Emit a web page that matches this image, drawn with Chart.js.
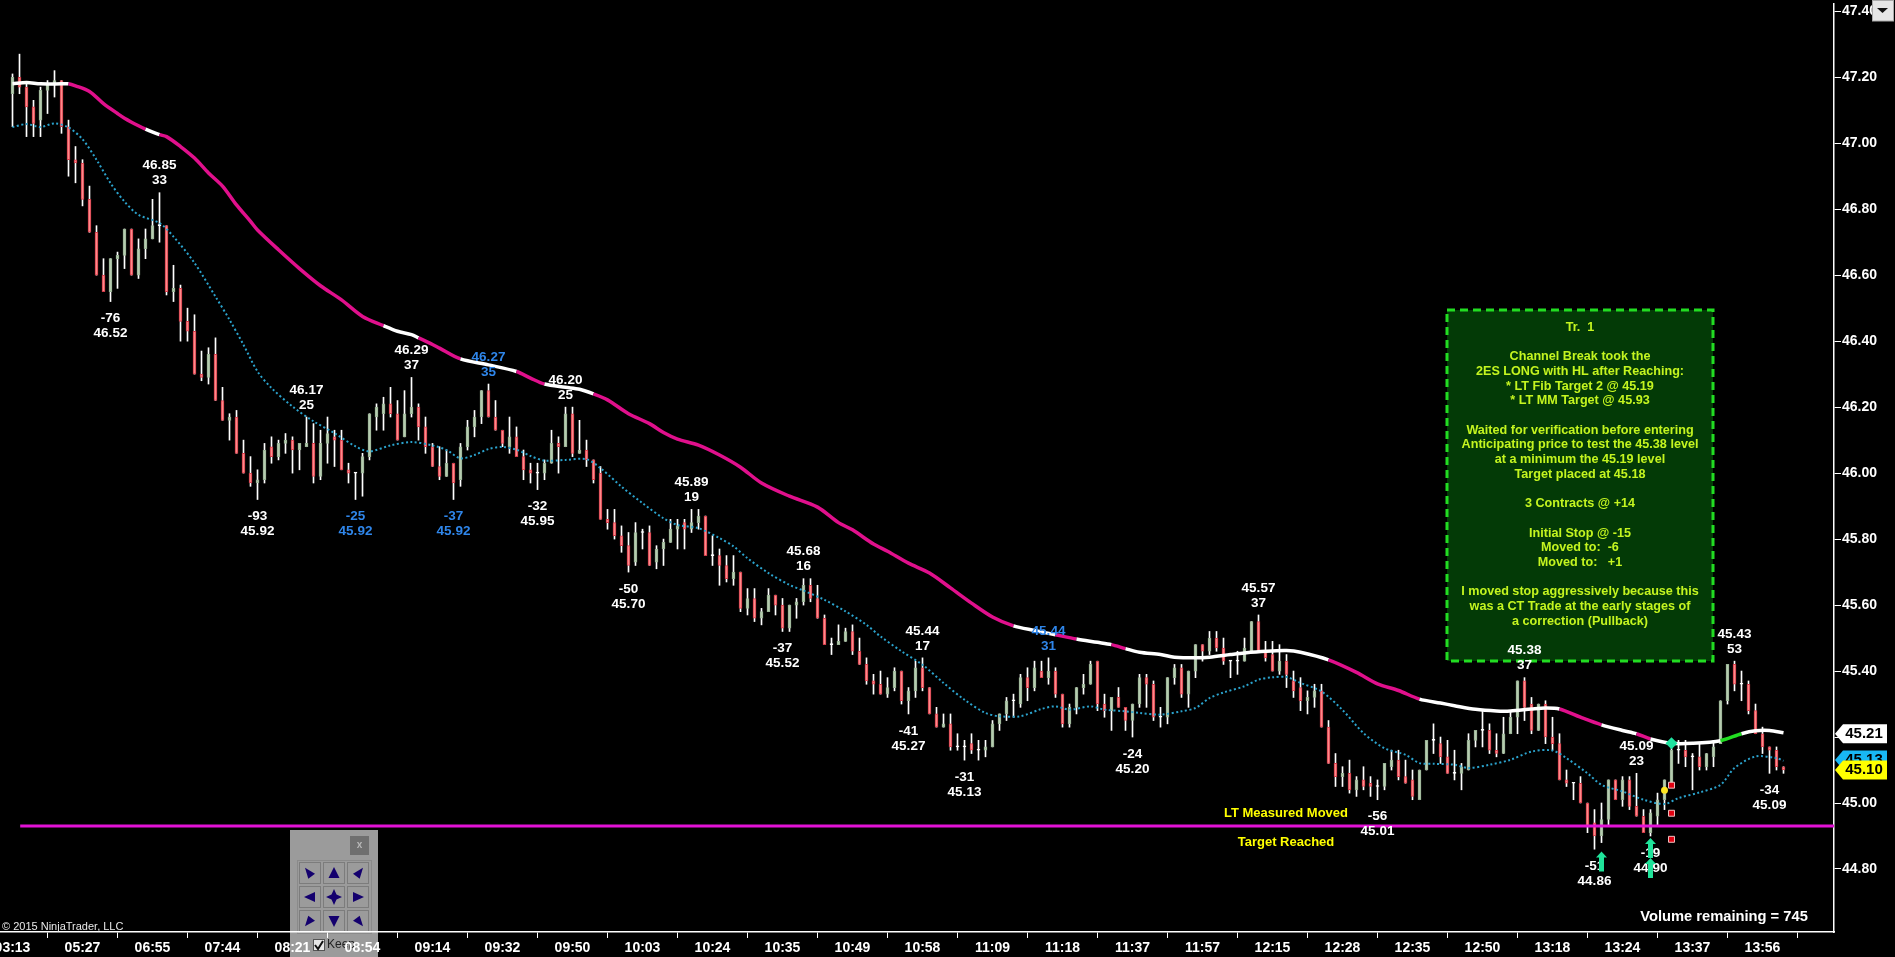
<!DOCTYPE html>
<html>
<head>
<meta charset="utf-8">
<title>ES chart</title>
<script src="https://cdn.jsdelivr.net/npm/chart.js@4/dist/chart.umd.min.js"></script>
<style>html,body{margin:0;padding:0;background:#000;overflow:hidden}canvas{display:block}</style>
</head>
<body>
<canvas id="c" width="1895" height="957"></canvas>
<script>
const timeLabels=['03:13','05:27','06:55','07:44','08:21','08:54','09:14','09:32','09:50','10:03','10:24','10:35','10:49','10:58','11:09','11:18','11:37','11:57','12:15','12:28','12:35','12:50','13:18','13:24','13:37','13:56'];
const priceTicks=[44.8,45,45.2,45.4,45.6,45.8,46,46.2,46.4,46.6,46.8,47,47.2,47.4];
const high=[47.21,47.27,47.18,47.13,47.17,47.19,47.22,47.19,47.07,46.99,
46.95,46.87,46.75,46.65,46.65,46.67,46.74,46.74,46.71,46.74,
46.83,46.85,46.75,46.63,46.57,46.50,46.48,46.37,46.38,46.41,
46.26,46.18,46.19,46.10,46.05,46.01,46.09,46.11,46.10,46.12,
46.11,46.09,46.17,46.15,46.13,46.17,46.13,46.13,46.03,46.00,
46.06,46.18,46.21,46.23,46.26,46.22,46.25,46.29,46.21,46.17,
46.09,46.08,46.07,46.03,46.09,46.16,46.19,46.25,46.27,46.22,
46.13,46.17,46.14,46.07,46.03,46.03,46.04,46.13,46.11,46.20,
46.20,46.16,46.10,46.04,46.02,45.89,45.89,45.84,45.82,45.85,
45.83,45.84,45.78,45.80,45.86,45.86,45.86,45.89,45.89,45.87,
45.81,45.77,45.75,45.75,45.70,45.65,45.65,45.59,45.65,45.63,
45.62,45.60,45.62,45.68,45.68,45.66,45.57,45.50,45.54,45.53,
45.54,45.50,45.44,45.39,45.40,45.38,45.41,45.40,45.35,45.43,
45.44,45.35,45.29,45.27,45.27,45.21,45.19,45.21,45.19,45.19,
45.25,45.27,45.32,45.33,45.39,45.41,45.43,45.43,45.44,45.41,
45.33,45.30,45.35,45.39,45.43,45.43,45.33,45.32,45.35,45.29,
45.30,45.39,45.39,45.37,45.29,45.38,45.42,45.42,45.40,45.48,
45.48,45.52,45.52,45.50,45.43,45.46,45.50,45.55,45.57,45.49,
45.49,45.48,45.45,45.40,45.38,45.34,45.36,45.36,45.25,45.15,
45.11,45.13,45.08,45.11,45.08,45.07,45.12,45.16,45.16,45.13,
45.10,45.10,45.19,45.24,45.20,45.19,45.16,45.12,45.21,45.22,
45.28,45.24,45.21,45.26,45.28,45.37,45.38,45.32,45.30,45.31,
45.26,45.21,45.10,45.06,45.08,45.00,44.98,45.00,45.07,45.07,
45.08,45.08,45.09,44.98,44.98,45.03,45.07,45.19,45.19,45.19,
45.15,45.18,45.15,45.19,45.31,45.42,45.43,45.40,45.37,45.30,
45.23,45.17,45.17,45.11];
const bodyTop=[47.20,47.20,47.17,47.11,47.16,47.18,47.19,47.19,47.05,46.95,
46.94,46.83,46.73,46.60,46.65,46.66,46.74,46.74,46.68,46.71,
46.75,46.75,46.75,46.56,46.56,46.46,46.43,46.30,46.36,46.36,
46.22,46.17,46.17,46.06,46.00,45.98,46.07,46.08,46.09,46.10,
46.10,46.09,46.09,46.09,46.09,46.12,46.11,46.10,46.01,46.00,
46.05,46.18,46.20,46.21,46.21,46.18,46.18,46.20,46.20,46.14,
46.08,46.02,46.03,46.03,46.08,46.14,46.17,46.25,46.25,46.17,
46.13,46.11,46.11,46.05,46.01,46.00,46.03,46.09,46.09,46.18,
46.18,46.07,46.07,46.04,46.00,45.86,45.85,45.81,45.78,45.82,
45.82,45.82,45.77,45.79,45.83,45.84,45.85,45.85,45.87,45.87,
45.75,45.75,45.72,45.70,45.70,45.62,45.62,45.58,45.63,45.63,
45.60,45.60,45.61,45.66,45.66,45.62,45.56,45.48,45.49,45.52,
45.52,45.46,45.42,45.37,45.36,45.35,45.40,45.40,45.34,45.41,
45.41,45.35,45.27,45.24,45.24,45.17,45.17,45.18,45.16,45.17,
45.24,45.27,45.31,45.31,45.38,45.38,45.41,45.40,45.40,45.40,
45.33,45.29,45.35,45.36,45.42,45.43,45.30,45.32,45.32,45.29,
45.30,45.38,45.38,45.36,45.26,45.38,45.41,45.41,45.40,45.48,
45.48,45.50,45.50,45.47,45.43,45.43,45.47,45.55,45.55,45.46,
45.45,45.43,45.43,45.37,45.35,45.32,45.34,45.34,45.23,45.12,
45.09,45.09,45.07,45.07,45.06,45.05,45.12,45.13,45.13,45.08,
45.07,45.10,45.19,45.19,45.18,45.14,45.09,45.11,45.19,45.22,
45.22,45.22,45.16,45.21,45.26,45.37,45.37,45.30,45.30,45.30,
45.20,45.18,45.07,45.06,45.06,45.00,44.94,44.95,45.07,45.07,
45.07,45.07,44.99,44.96,44.97,45.01,45.07,45.16,45.16,45.16,
45.14,45.14,45.15,45.17,45.31,45.42,45.42,45.36,45.36,45.28,
45.21,45.17,45.16,45.11];
const bodyBottom=[47.15,47.17,47.11,47.06,47.07,47.16,47.18,47.05,46.95,46.94,
46.83,46.73,46.60,46.55,46.55,46.65,46.66,46.60,46.60,46.68,
46.71,46.75,46.55,46.55,46.46,46.43,46.30,46.29,46.29,46.22,
46.16,46.16,46.06,46.00,45.97,45.97,45.98,46.05,46.05,46.09,
46.07,46.07,46.08,45.99,45.99,46.09,46.10,46.01,46.00,46.00,
46.00,46.05,46.17,46.18,46.18,46.10,46.11,46.18,46.14,46.08,
46.02,45.99,45.99,45.97,45.98,46.08,46.14,46.17,46.17,46.13,
46.09,46.08,46.05,46.01,46.00,46.00,46.00,46.03,46.08,46.08,
46.06,46.06,46.04,45.98,45.86,45.85,45.81,45.78,45.72,45.73,
45.82,45.72,45.73,45.77,45.79,45.83,45.83,45.83,45.85,45.75,
45.75,45.72,45.68,45.68,45.59,45.59,45.56,45.56,45.58,45.60,
45.53,45.53,45.60,45.61,45.62,45.56,45.48,45.48,45.48,45.49,
45.46,45.42,45.37,45.36,45.33,45.33,45.35,45.31,45.31,45.34,
45.35,45.27,45.23,45.23,45.17,45.17,45.17,45.16,45.16,45.16,
45.17,45.24,45.27,45.31,45.30,45.35,45.35,45.38,45.38,45.33,
45.24,45.24,45.29,45.35,45.36,45.30,45.28,45.28,45.29,45.25,
45.25,45.30,45.36,45.26,45.26,45.26,45.38,45.33,45.33,45.40,
45.46,45.46,45.47,45.43,45.43,45.43,45.43,45.46,45.46,45.44,
45.40,45.40,45.39,45.34,45.31,45.31,45.32,45.23,45.12,45.08,
45.08,45.04,45.04,45.05,45.05,45.05,45.05,45.11,45.08,45.06,
45.02,45.01,45.10,45.19,45.14,45.09,45.09,45.09,45.10,45.19,
45.22,45.16,45.15,45.15,45.21,45.26,45.29,45.22,45.22,45.20,
45.18,45.07,45.06,45.06,45.00,44.93,44.90,44.90,44.95,45.01,
45.01,44.99,44.96,44.91,44.91,44.96,45.01,45.06,45.16,45.14,
45.14,45.11,45.11,45.14,45.18,45.31,45.36,45.36,45.28,45.21,
45.17,45.16,45.11,45.10];
const low=[47.05,47.15,47.02,47.02,47.02,47.09,47.14,47.03,46.90,46.88,
46.81,46.73,46.60,46.55,46.52,46.56,46.62,46.60,46.59,46.65,
46.71,46.70,46.54,46.52,46.40,46.40,46.30,46.28,46.27,46.22,
46.16,46.10,46.06,46.00,45.96,45.92,45.97,46.03,46.04,46.06,
46.00,46.01,46.08,45.97,45.98,46.03,46.02,46.01,45.97,45.92,
45.93,46.04,46.13,46.13,46.17,46.10,46.11,46.17,46.10,46.06,
46.02,45.98,45.99,45.92,45.96,46.07,46.11,46.15,46.17,46.13,
46.08,46.06,46.05,45.98,45.97,45.95,45.98,46.03,46.00,46.08,
46.05,46.06,46.02,45.97,45.86,45.83,45.80,45.76,45.70,45.72,
45.77,45.72,45.71,45.72,45.79,45.77,45.77,45.82,45.83,45.75,
45.72,45.66,45.67,45.66,45.58,45.57,45.55,45.54,45.58,45.57,
45.52,45.52,45.56,45.60,45.61,45.56,45.48,45.45,45.48,45.49,
45.45,45.42,45.36,45.33,45.33,45.32,45.34,45.30,45.27,45.32,
45.34,45.27,45.23,45.23,45.16,45.16,45.13,45.15,45.13,45.14,
45.17,45.22,45.25,45.26,45.29,45.31,45.34,45.38,45.36,45.32,
45.23,45.23,45.27,45.33,45.36,45.28,45.26,45.22,45.29,45.22,
45.20,45.29,45.29,45.25,45.23,45.24,45.36,45.32,45.29,45.38,
45.43,45.45,45.46,45.42,45.38,45.39,45.43,45.46,45.46,45.43,
45.40,45.39,45.35,45.32,45.28,45.27,45.29,45.23,45.12,45.05,
45.05,45.03,45.02,45.04,45.02,45.01,45.04,45.10,45.07,45.06,
45.01,45.01,45.10,45.15,45.12,45.09,45.07,45.04,45.10,45.17,
45.17,45.15,45.14,45.15,45.21,45.21,45.25,45.21,45.22,45.18,
45.16,45.07,45.05,45.01,45.00,44.91,44.86,44.88,44.93,45.01,
44.99,44.98,44.96,44.91,44.90,44.93,44.98,45.05,45.12,45.11,
45.04,45.10,45.10,45.11,45.18,45.30,45.34,45.31,45.27,45.21,
45.15,45.09,45.10,45.09];
const candleDir=('grrrgggrrr'+'rrrrgggrgg'+'gdrgrrrrgr'+'rgrrrggrgg'+'rggrggrrrd'+'ggggrrggrr'+
'rrgrggggrr'+'rgrrrdggrg'+'rgrrrrrrrg'+'drggggrggr'+'drrgrgrggr'+'rgggrrrdgg'+'rrrrrggrgg'+
'rrrgrddrdg'+'gggdgrgrgr'+'rggggrrgrr'+'ggrrdggrgg'+'rgrrddggrr'+'rgrrrggrrr'+'grgrrdggrr'+
'rggdrrdggg'+'drrgggrrgr'+'rrrdrrrggr'+'grrrggggdr'+'drgggg'+'rdrr'+'rrrr').split('');
const smaIdx=[0,2,4,7,8,9,11,13,15,16,18,19,21,22,24,26,28,30,32,34,35,38,41,44,47,50,53,55,57,58,60,61,64,68,72,74,76,79,81,83,85,88,91,93,95,98,101,104,107,111,115,118,120,123,125,128,131,134,137,140,143,146,149,152,155,157,159,161,164,166,169,171,174,176,179,182,184,188,192,195,198,201,204,206,209,212,214,217,219,221,224,227,230,232,234,237,240,244,247,249,251,253];
const smaVal=[47.18,47.184,47.18,47.18,47.18,47.174,47.157,47.12,47.09,47.076,47.053,47.043,47.026,47.02,46.99,46.955,46.91,46.87,46.813,46.763,46.737,46.677,46.62,46.568,46.525,46.475,46.447,46.43,46.42,46.41,46.39,46.379,46.346,46.328,46.308,46.288,46.27,46.26,46.254,46.24,46.222,46.18,46.15,46.123,46.103,46.085,46.055,46.018,45.97,45.93,45.897,45.85,45.828,45.785,45.763,45.727,45.697,45.652,45.606,45.564,45.537,45.523,45.51,45.497,45.487,45.48,45.468,45.457,45.45,45.442,45.44,45.442,45.45,45.455,45.46,45.462,45.457,45.434,45.396,45.361,45.341,45.315,45.303,45.295,45.284,45.279,45.279,45.285,45.288,45.285,45.26,45.237,45.22,45.21,45.194,45.181,45.181,45.189,45.21,45.219,45.22,45.213];
const smaBreaks=[0,8,19,21,53,58,64,72,76,83,97,98,143,149,152,158,159,187,201,206,207,221,227,232,234,244,247,253];
const smaColors=['w','p','w','p','w','p','w','p','w','p','w','p','w','p','w','p','w','p','w','p','w','p','w','p','w','g','w'];
const emaIdx=[0,2,4,6,8,10,12,14,16,18,21,23,26,29,31,33,35,37,40,43,46,49,51,54,57,60,62,64,66,68,70,72,74,76,79,82,84,87,90,93,95,98,101,103,105,108,111,113,116,119,122,124,127,130,133,136,139,141,144,147,149,151,154,156,159,161,164,167,169,171,173,176,178,180,182,184,187,190,193,196,199,201,203,206,208,211,214,217,220,222,225,227,230,233,236,238,241,244,246,249,252,253];
const emaVal=[47.049,47.058,47.049,47.06,47.048,47.012,46.95,46.879,46.823,46.783,46.758,46.717,46.637,46.535,46.465,46.389,46.308,46.258,46.202,46.157,46.121,46.081,46.066,46.084,46.094,46.084,46.07,46.045,46.055,46.073,46.079,46.071,46.052,46.038,46.04,46.042,46.015,45.959,45.909,45.863,45.843,45.833,45.803,45.778,45.742,45.697,45.661,45.644,45.616,45.581,45.54,45.505,45.46,45.419,45.364,45.313,45.273,45.263,45.263,45.285,45.293,45.283,45.293,45.283,45.278,45.273,45.268,45.278,45.288,45.318,45.335,45.354,45.374,45.381,45.382,45.364,45.338,45.282,45.212,45.166,45.146,45.121,45.119,45.116,45.106,45.116,45.131,45.156,45.159,45.136,45.09,45.055,45.035,45.01,44.997,45.015,45.032,45.055,45.106,45.141,45.136,45.128];
const levelPrice=44.93, levelFromBar=1.1;
const swingHighs=[[21,46.85,'46.85','33',0],[42,46.17,'46.17','25',0],[57,46.29,'46.29','37',0],[68,46.27,'46.27','35',1],[79,46.20,'46.20','25',0],[97,45.89,'45.89','19',0],[113,45.68,'45.68','16',0],[130,45.44,'45.44','17',0],[148,45.44,'45.44','31',1],[178,45.57,'45.57','37',0],[216,45.38,'45.38','37',0],[232,45.09,'45.09','23',0],[246,45.43,'45.43','53',0]];
const swingLows=[[14,46.52,'-76','46.52',0],[35,45.92,'-93','45.92',0],[49,45.92,'-25','45.92',1],[63,45.92,'-37','45.92',1],[75,45.95,'-32','45.95',0],[88,45.70,'-50','45.70',0],[110,45.52,'-37','45.52',0],[128,45.27,'-41','45.27',0],[136,45.13,'-31','45.13',0],[160,45.20,'-24','45.20',0],[195,45.01,'-56','45.01',0],[226,44.86,'-51','44.86',0],[234,44.90,'-19','44.90',0],[251,45.09,'-34','45.09',0]];
const stopBar=237, stopPrices=[45.054,44.969,44.89];
const entryBar=237, entryPrice=45.181;
const dotBar=236, dotPrice=45.039;
const arrowBars=[227,234,234], arrowTips=[44.853,44.894,44.833];
const priceTags=[[45.13,'45.13','#18b8f5','#000'],[45.10,'45.10','#ffff00','#000'],[45.21,'45.21','#ffffff','#000']];
const noteLines=['Tr.  1','','Channel Break took the','2ES LONG with HL after Reaching:','* LT Fib Target 2 @ 45.19','* LT MM Target @ 45.93','','Waited for verification before entering','Anticipating price to test the 45.38 level','at a minimum the 45.19 level','Target placed at 45.18','','3 Contracts @ +14','','Initial Stop @ -15','Moved to:  -6','Moved to:   +1','','I moved stop aggressively because this','was a CT Trade at the early stages of','a correction (Pullback)'];

const FONT='"Liberation Sans"';
const pixelX=[12.5,7];
const xMin=-pixelX[0]/pixelX[1], xMax=(1834-pixelX[0])/pixelX[1];
const yMin=44.609, yMax=47.422;
const up='#b6ccb0', upEdge='#98b294', dn='#ff8a8a', dnEdge='#d23a48';
const smaMap={w:'#ffffff',p:'#e0108c',g:'#22dd22'};
function smaColorAt(x){for(let k=smaColors.length-1;k>=0;k--){if(x>=smaBreaks[k])return smaMap[smaColors[k]];}return smaMap.w;}

function text(ctx,s,x,y,font,color,align,sx){
  ctx.save();ctx.font=font;ctx.fillStyle=color;ctx.textAlign=align||'center';ctx.textBaseline='middle';
  ctx.translate(x,y);ctx.scale(sx||1,1);ctx.fillText(s,0,0);ctx.restore();
}
function poly(ctx,pts,fill){ctx.beginPath();pts.forEach((p,i)=>i?ctx.lineTo(p[0],p[1]):ctx.moveTo(p[0],p[1]));ctx.closePath();ctx.fillStyle=fill;ctx.fill();}

function drawPanel(ctx){
  ctx.fillStyle='#9b9b9b';ctx.fillRect(290,830,88,127);
  ctx.fillStyle='#6f6f6f';ctx.fillRect(350,836,19,19);
  text(ctx,'x',359.5,845,'bold 10px '+FONT,'#b8b8b8');
  ctx.strokeStyle='#8a8a8a';ctx.lineWidth=1;ctx.strokeRect(297.5,860.5,74,73);
  const xs=[299,323,347],ys=[862,886,910],navy='#14006e';
  xs.forEach(x=>ys.forEach(y=>{ctx.strokeStyle='#7c7c7c';ctx.lineWidth=1;ctx.strokeRect(x+.5,y+.5,21,21);}));
  const c=(col,row)=>[xs[col]+11,ys[row]+11];
  const T=(col,row,pts)=>{const [a,b]=c(col,row);poly(ctx,pts.map(p=>[a+p[0],b+p[1]]),navy);};
  T(0,0,[[-5,-5.3],[5,.7],[-1.7,5.7]]);T(2,0,[[5,-5.3],[-5,.7],[1.7,5.7]]);
  T(0,2,[[-5,5.3],[5,-.3],[-1.7,-5.3]]);T(2,2,[[5,5.3],[-5,-.3],[1.7,-5.3]]);
  T(1,0,[[0,-6],[5.5,5],[-5.5,5]]);T(1,2,[[0,6],[5.5,-5],[-5.5,-5]]);
  T(0,1,[[-6,0],[5,-5],[5,5]]);T(2,1,[[6,0],[-5,-5],[-5,5]]);
  T(1,1,[[0,-8],[2.5,-2.5],[8,0],[2.5,2.5],[0,8],[-2.5,2.5],[-8,0],[-2.5,-2.5]]);
  ctx.fillStyle='#e8e8e8';ctx.fillRect(313,939,12,12);ctx.strokeStyle='#555';ctx.strokeRect(313.5,939.5,11,11);
  ctx.strokeStyle='#111';ctx.lineWidth=2;ctx.beginPath();ctx.moveTo(315,945);ctx.lineTo(318,949);ctx.lineTo(323,941);ctx.stroke();
  text(ctx,'Keep',327,945,'12px '+FONT,'#222','left');
}
const scene={
  id:'scene',
  beforeDraw(ch){
    const ctx=ch.ctx;
    ctx.save();ctx.fillStyle='#000';ctx.fillRect(0,0,1895,957);drawPanel(ctx);ctx.restore();
  },
  afterDatasetsDraw(ch){
    const ctx=ch.ctx,X=ch.scales.x,Y=ch.scales.y;
    ctx.save();
    ctx.fillStyle='#033a06';ctx.fillRect(1447,310,266,351);
    ctx.strokeStyle='#22dd22';ctx.lineWidth=3;ctx.setLineDash([8,5]);ctx.strokeRect(1447,310,266,351);ctx.setLineDash([]);
    noteLines.forEach((s,i)=>{if(s)text(ctx,s,1580,327.3+i*14.7,'bold 13px '+FONT,'#c4f520','center',.97);});
    const lf='bold 13.5px '+FONT,blue='#2f86ea';
    swingHighs.forEach(r=>{const x=X.getPixelForValue(r[0]),y=Y.getPixelForValue(r[1]),c=r[4]?blue:'#fff';
      text(ctx,r[2],x,y-27,lf,c);text(ctx,r[3],x,y-12,lf,c);});
    swingLows.forEach(r=>{const x=X.getPixelForValue(r[0]),y=Y.getPixelForValue(r[1]),c=r[4]?blue:'#fff';
      text(ctx,r[2],x,y+17,lf,c);text(ctx,r[3],x,y+32,lf,c);});
    arrowBars.forEach((b,i)=>{const x=X.getPixelForValue(b),y=Y.getPixelForValue(arrowTips[i]);
      poly(ctx,[[x,y],[x+5.5,y+6],[x+2.5,y+6],[x+2.5,y+20],[x-2.5,y+20],[x-2.5,y+6],[x-5.5,y+6]],'#1fe39a');});
    text(ctx,'LT Measured Moved',1286,813,'bold 13px '+FONT,'#ffff00');
    text(ctx,'Target Reached',1286,842,'bold 13px '+FONT,'#ffff00');
    text(ctx,'Volume remaining = 745',1724,917,'bold 14px '+FONT,'#ffffff','center',1.05);
    text(ctx,'\u00a9 2015 NinjaTrader, LLC',2,927,'11px '+FONT,'#e8e8e8','left');
    priceTags.forEach(t=>{const y=Y.getPixelForValue(t[0]),x0=1835,x1=1887,h=9.5;
      poly(ctx,[[x0,y],[x0+8,y-h],[x1,y-h],[x1,y+h],[x0+8,y+h]],t[2]);
      text(ctx,t[1],1864,y,'bold 15px '+FONT,t[3]);});
    const axisFont='bold 14px '+FONT;
    text(ctx,timeLabels[0],X.getPixelForValue(0),948,axisFont,'#ffffff');
    text(ctx,priceTicks[priceTicks.length-1].toFixed(2),1842,Y.getPixelForValue(priceTicks[priceTicks.length-1]),axisFont,'#ffffff','left');
    ctx.fillStyle='#e6e6e6';ctx.fillRect(1872,0,22,21);ctx.strokeStyle='#aaa';ctx.lineWidth=1;ctx.strokeRect(1872.5,.5,21,20.5);
    poly(ctx,[[1877,8],[1888,8],[1882.5,13]],'#111');
    ctx.restore();
  }
};
const indices=high.map((_,i)=>i);
const bodyFill=indices.map(i=>candleDir[i]==='g'?up:candleDir[i]==='r'?dn:'#ffffff');
const bodyEdge=indices.map(i=>candleDir[i]==='g'?upEdge:candleDir[i]==='r'?dnEdge:'#ffffff');
new Chart(document.getElementById('c'),{
  type:'bar',
  data:{datasets:[
    {type:'bar',order:6,grouped:false,barThickness:1,backgroundColor:'#ffffff',borderWidth:0,
     data:indices.map(i=>({x:i,y:[low[i],high[i]]}))},
    {type:'bar',order:5,grouped:false,barThickness:3,backgroundColor:bodyFill,borderColor:bodyEdge,borderWidth:1,borderSkipped:false,minBarLength:1,
     data:indices.map(i=>({x:i,y:[bodyBottom[i],bodyTop[i]]}))},
    {type:'line',order:4,data:emaIdx.map((x,k)=>({x,y:emaVal[k]})),borderColor:'#2ba3cd',borderWidth:2,borderDash:[2,2.5],pointRadius:0,tension:.3,fill:false},
    {type:'line',order:3,data:smaIdx.map((x,k)=>({x,y:smaVal[k]})),borderColor:'#e0108c',borderWidth:3.5,pointRadius:0,tension:.3,fill:false,
     segment:{borderColor:c=>smaColorAt((c.p0.parsed.x+c.p1.parsed.x)/2)}},
    {type:'line',order:2,data:[{x:levelFromBar,y:levelPrice},{x:xMax,y:levelPrice}],borderColor:'#e312d6',borderWidth:3,pointRadius:0,fill:false},
    {type:'line',order:1,showLine:false,data:stopPrices.map(y=>({x:stopBar,y})),pointStyle:'rect',pointRadius:4.2,pointBackgroundColor:'#e00010',pointBorderColor:'#f0c0c0',pointBorderWidth:1},
    {type:'line',order:1,showLine:false,data:[{x:dotBar,y:dotPrice}],pointStyle:'circle',pointRadius:3.5,pointBackgroundColor:'#ffe820',pointBorderWidth:0},
    {type:'line',order:1,showLine:false,data:[{x:entryBar,y:entryPrice}],pointStyle:'rectRot',pointRadius:6,pointBackgroundColor:'#1fe3a0',pointBorderWidth:0}
  ]},
  options:{
    responsive:false,animation:false,devicePixelRatio:1,
    layout:{autoPadding:false,padding:{left:0,top:4,right:0,bottom:0}},
    plugins:{legend:{display:false},tooltip:{enabled:false}},
    events:[],
    scales:{
      x:{type:'linear',min:xMin,max:xMax,offset:false,
        afterBuildTicks(s){s.ticks=timeLabels.map((_,i)=>({value:i*10}));},
        afterFit(s){s.height=25;s.paddingLeft=0;s.paddingRight=0;},
        grid:{drawOnChartArea:false,color:'#fff',tickLength:6,tickWidth:1},
        border:{color:'#fff',width:1.5},
        ticks:{color:'#fff',font:{family:FONT,weight:'bold',size:14},padding:2,maxRotation:0,autoSkip:false,
          callback:v=>v===0?'':timeLabels[Math.round(v/10)]}},
      y:{type:'linear',position:'right',min:yMin,max:yMax,
        afterBuildTicks(s){s.ticks=priceTicks.map(value=>({value}));},
        afterFit(s){s.width=61;s.paddingTop=0;s.paddingBottom=0;},
        grid:{drawOnChartArea:false,color:'#fff',tickLength:7,tickWidth:1},
        border:{color:'#fff',width:1.5},
        ticks:{color:'#fff',font:{family:FONT,weight:'bold',size:14},padding:1,autoSkip:false,
          callback:v=>v===priceTicks[priceTicks.length-1]?'':v.toFixed(2)}}
    }
  },
  plugins:[scene]
});
</script>
</body>
</html>
